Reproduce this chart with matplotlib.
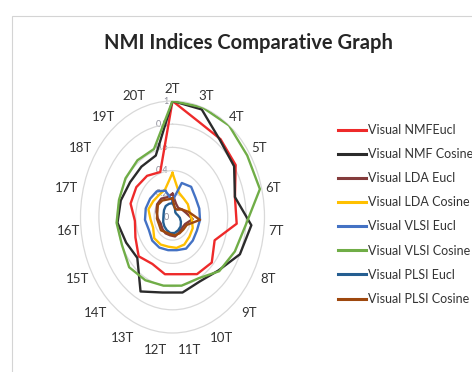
import numpy as np
import matplotlib.pyplot as plt
from matplotlib.transforms import offset_copy
from matplotlib.patches import Rectangle

# topic counts 2T..20T
categories = ['2T', '3T', '4T', '5T', '6T', '7T', '8T', '9T', '10T', '11T',
              '12T', '13T', '14T', '15T', '16T', '17T', '18T', '19T', '20T']

nmf_eucl = [1.0, 0.87, 0.85, 0.82, 0.70, 0.70, 0.50, 0.58, 0.56, 0.50,
            0.50, 0.46, 0.50, 0.44, 0.41, 0.47, 0.47, 0.45, 0.41]
nmf_cosine = [1.0, 0.98, 0.84, 0.80, 0.70, 0.86, 0.80, 0.68, 0.63, 0.66,
              0.66, 0.73, 0.52, 0.55, 0.60, 0.58, 0.55, 0.55, 0.56]
lda_eucl = [0.20, 0.12, 0.10, 0.12, 0.15, 0.22, 0.15, 0.14, 0.15, 0.17,
            0.16, 0.16, 0.15, 0.14, 0.16, 0.18, 0.20, 0.20, 0.18]
lda_cosine = [0.38, 0.22, 0.20, 0.20, 0.19, 0.21, 0.24, 0.25, 0.27, 0.27,
              0.26, 0.27, 0.27, 0.23, 0.24, 0.27, 0.25, 0.24, 0.25]
vlsi_eucl = [0.14, 0.31, 0.33, 0.30, 0.30, 0.30, 0.29, 0.30, 0.31, 0.29,
             0.29, 0.30, 0.30, 0.28, 0.30, 0.30, 0.29, 0.28, 0.24]
vlsi_cosine = [1.0, 1.0, 1.0, 0.97, 0.98, 0.80, 0.74, 0.69, 0.60, 0.60,
               0.60, 0.62, 0.64, 0.60, 0.61, 0.60, 0.61, 0.62, 0.62]
plsi_eucl = [0.12, 0.08, 0.05, 0.05, 0.06, 0.08, 0.10, 0.12, 0.13, 0.14,
             0.14, 0.13, 0.12, 0.11, 0.10, 0.10, 0.11, 0.12, 0.12]
plsi_cosine = [0.16, 0.08, 0.08, 0.12, 0.18, 0.30, 0.17, 0.16, 0.16, 0.16,
               0.15, 0.15, 0.17, 0.16, 0.17, 0.17, 0.19, 0.18, 0.16]

series = [
    ('Visual NMFEucl', nmf_eucl, '#ee2a2a'),
    ('Visual NMF Cosine', nmf_cosine, '#2b2b2b'),
    ('Visual LDA Eucl', lda_eucl, '#843c3c'),
    ('Visual LDA Cosine', lda_cosine, '#ffc000'),
    ('Visual VLSI Eucl', vlsi_eucl, '#4472c4'),
    ('Visual VLSI Cosine', vlsi_cosine, '#70ad47'),
    ('Visual PLSI Eucl', plsi_eucl, '#255e91'),
    ('Visual PLSI Cosine', plsi_cosine, '#9e480e'),
]

rings = [0, 0.2, 0.4, 0.6, 0.8, 1]
ring_labels = ['0', '0.2', '0.4', '0.6', '0.8', '1']

plt.rcParams['font.family'] = ['Lato', 'DejaVu Sans']

fig = plt.figure(figsize=(4.72, 3.72), dpi=100)
W, H = 472, 372

# chart frame
fig.patches.append(Rectangle((12 / W, -0.05), 1.0, (H - 16) / H + 0.05,
                             transform=fig.transFigure, fill=False,
                             edgecolor='#d4d4d4', lw=0.8))

fig.text(248 / W, 1 - 43 / H, 'NMI Indices Comparative Graph',
         ha='center', va='center', fontsize=14.5, fontweight='bold',
         color='#262626')

# elliptical radar: polar axes stretched to a non-square box
cx, cy, rx, ry = 172.5, 217, 92, 116
ax = fig.add_axes([(cx - rx) / W, 1 - (cy + ry) / H, 2 * rx / W, 2 * ry / H],
                  projection='polar')
ax.set_aspect('auto')
ax.set_theta_zero_location('N')
ax.set_theta_direction(-1)
ax.set_ylim(0, 1)

angles = np.linspace(0, 2 * np.pi, len(categories), endpoint=False)
ax.set_xticks(angles)
ax.set_xticklabels([])
ax.xaxis.grid(False)
ax.set_yticks(rings[1:-1])
ax.set_yticklabels([])
ax.yaxis.grid(True, color='#d9d9d9', lw=0.9)
ax.spines['polar'].set_color('#d9d9d9')
ax.spines['polar'].set_linewidth(0.9)
ax.tick_params(length=0)
ax.patch.set_alpha(0)

lab_tf = offset_copy(ax.transData, fig=fig, x=-4, y=0, units='dots')
for r, lab in zip(rings, ring_labels):
    ax.text(0, r, lab, transform=lab_tf, ha='right', va='center',
            fontsize=6.5, color='#8c8c98', zorder=1)

# category labels sit a little lower on the bottom half, further out on the upper left
for ang, cat in zip(angles, categories):
    s, c = np.sin(ang), np.cos(ang)
    dx = -5 if (s < -0.3 and c > 0) else 0
    dy = 3 if c > -0.2 else 4 + 6 * s ** 2
    tf = offset_copy(ax.transData, fig=fig, x=dx, y=-dy, units='dots')
    ax.text(ang, 1.13, cat, transform=tf, ha='center', va='center',
            fontsize=9.5, color='#333333', clip_on=False)

ang_closed = np.append(angles, angles[0])
for name, vals, col in series:
    v = np.append(vals, vals[0])
    ax.plot(ang_closed, v, color=col, lw=1.7, label=name, zorder=3)

handles, labels = ax.get_legend_handles_labels()
leg = fig.legend(handles, labels, loc='upper left',
                 bbox_to_anchor=(333 / W, 1 - 119 / H), frameon=False,
                 fontsize=9, handlelength=2.2, handletextpad=0.2,
                 labelspacing=0.97, borderaxespad=0)
for t in leg.get_texts():
    t.set_color('#333333')
for line in leg.get_lines():
    line.set_linewidth(2.2)

fig.savefig('out.png', dpi=100)
